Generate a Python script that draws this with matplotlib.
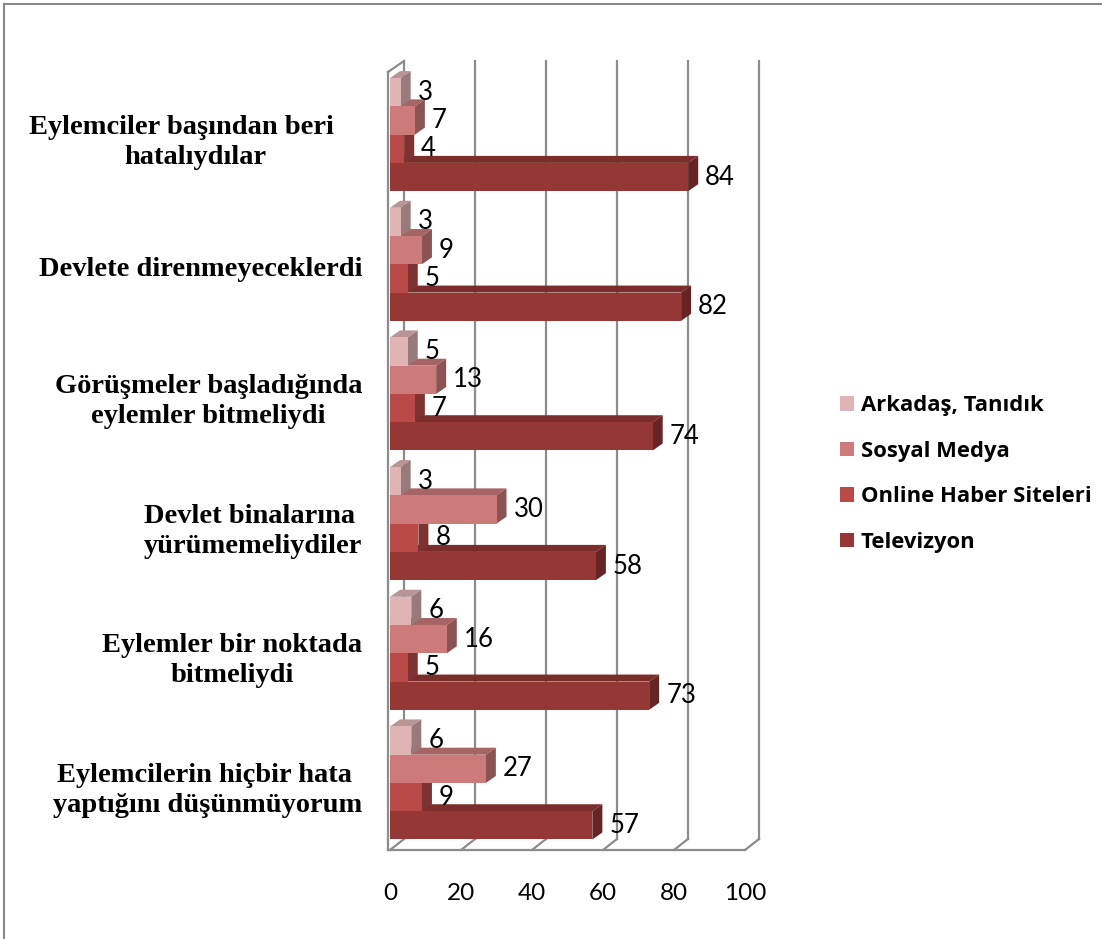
import matplotlib
matplotlib.use('Agg')
import matplotlib.pyplot as plt
from matplotlib.patches import Polygon, Rectangle, Patch
from matplotlib.lines import Line2D
import numpy as np

categories = [
    "Eylemciler başından beri    \nhatalıydılar",
    "Devlete direnmeyeceklerdi",
    "Görüşmeler başladığında\neylemler bitmeliydi",
    "Devlet binalarına \nyürümemeliydiler",
    "Eylemler bir noktada\nbitmeliydi",
    "Eylemcilerin hiçbir hata \nyaptığını düşünmüyorum",
]
series_names = ["Arkadaş, Tanıdık", "Sosyal Medya", "Online Haber Siteleri", "Televizyon"]
arkadas = [3, 3, 5, 3, 6, 6]
sosyal = [7, 9, 13, 30, 16, 27]
online = [4, 5, 7, 8, 5, 9]
televizyon = [84, 82, 74, 58, 73, 57]
x_ticks = [0, 20, 40, 60, 80, 100]

series = [arkadas, sosyal, online, televizyon]
front_colors = ["#E0B4B4", "#CC7A7A", "#B94A48", "#953735"]

def shade(c, f):
    r, g, b = matplotlib.colors.to_rgb(c)
    return (r * f, g * f, b * f)

W, H = 1102, 939
fig = plt.figure(figsize=(W / 100, H / 100), dpi=100)
ax = fig.add_axes([390 / W, 1 - 850 / H, 355 / W, 778 / H])
n = len(categories)
ax.set_xlim(0, 100)
ax.set_ylim(0, n)
for s in ax.spines.values():
    s.set_visible(False)

px_x = 100 / 355
px_y = n / 778
bdx, bdy = 10 * px_x, 7 * px_y
wdx, wdy = 14 * px_x, 11 * px_y
grid_c = "#8c8c8c"
glw = 1.6

# back wall gridlines and floor
for t in x_ticks:
    ax.add_line(Line2D([t + wdx, t + wdx], [wdy, n + wdy], color=grid_c, lw=glw, clip_on=False, zorder=1))
    ax.add_line(Line2D([t, t + wdx], [0, wdy], color=grid_c, lw=glw, clip_on=False, zorder=1))
x0 = -2 * px_x
ax.add_line(Line2D([x0, 100], [0, 0], color=grid_c, lw=glw, clip_on=False, zorder=1))
ax.add_line(Line2D([x0, x0], [0, n], color=grid_c, lw=glw, clip_on=False, zorder=1))
ax.add_line(Line2D([x0, wdx], [n, n + wdy], color=grid_c, lw=glw, clip_on=False, zorder=1))

bh = 0.218
top_pad = 0.047
label_font = "Lato"

# draw from bottom to top so upper bars occlude lower ones
for i in reversed(range(n)):
    for j in reversed(range(len(series))):
        v = series[j][i]
        y_top = n - i - top_pad - j * bh
        y_bot = y_top - bh
        c = front_colors[j]
        ax.add_patch(Polygon([(0, y_top), (v, y_top), (v + bdx, y_top + bdy), (bdx, y_top + bdy)],
                             closed=True, facecolor=shade(c, 0.82), edgecolor="none", zorder=3, clip_on=False))
        ax.add_patch(Polygon([(v, y_bot), (v + bdx, y_bot + bdy), (v + bdx, y_top + bdy), (v, y_top)],
                             closed=True, facecolor=shade(c, 0.68), edgecolor="none", zorder=3, clip_on=False))
        ax.add_patch(Rectangle((0, y_bot), v, bh, facecolor=c, edgecolor="none", zorder=3, clip_on=False))

for i in range(n):
    for j in range(len(series)):
        v = series[j][i]
        y_top = n - i - top_pad - j * bh
        yc = y_top - bh / 2
        ax.text(v + 17 * px_x, yc, str(v), ha="left", va="center", fontsize=18.5,
                family=label_font, color="black", zorder=10, clip_on=False)

ax.set_xticks(x_ticks)
ax.set_xticklabels([str(t) for t in x_ticks], fontsize=17.5, family=label_font)
ax.tick_params(axis="x", length=0, pad=24)
ax.set_yticks([n - i - 0.5 for i in range(n)])
ax.set_yticklabels(categories, fontsize=20.5, family="Liberation Serif", fontweight="bold",
                   multialignment="center", linespacing=1.25)
ax.tick_params(axis="y", length=0, pad=20)

handles = [Patch(facecolor=front_colors[j], edgecolor="none", label=series_names[j]) for j in range(len(series))]
fig.legend(handles=handles, loc="center left", bbox_to_anchor=(831 / W, 1 - 474 / H), frameon=False,
           prop={"family": "Open Sans", "weight": "bold", "size": 15.8}, handlelength=0.65, handleheight=0.65,
           handletextpad=0.3, labelspacing=1.12, borderaxespad=0)

# outer border (top and left)
fig.add_artist(Line2D([4 / W, 1], [1 - 4 / H, 1 - 4 / H], transform=fig.transFigure, color="#888888", lw=1.5))
fig.add_artist(Line2D([4 / W, 4 / W], [0, 1 - 4 / H], transform=fig.transFigure, color="#888888", lw=1.5))

fig.savefig("out.png", dpi=100)
